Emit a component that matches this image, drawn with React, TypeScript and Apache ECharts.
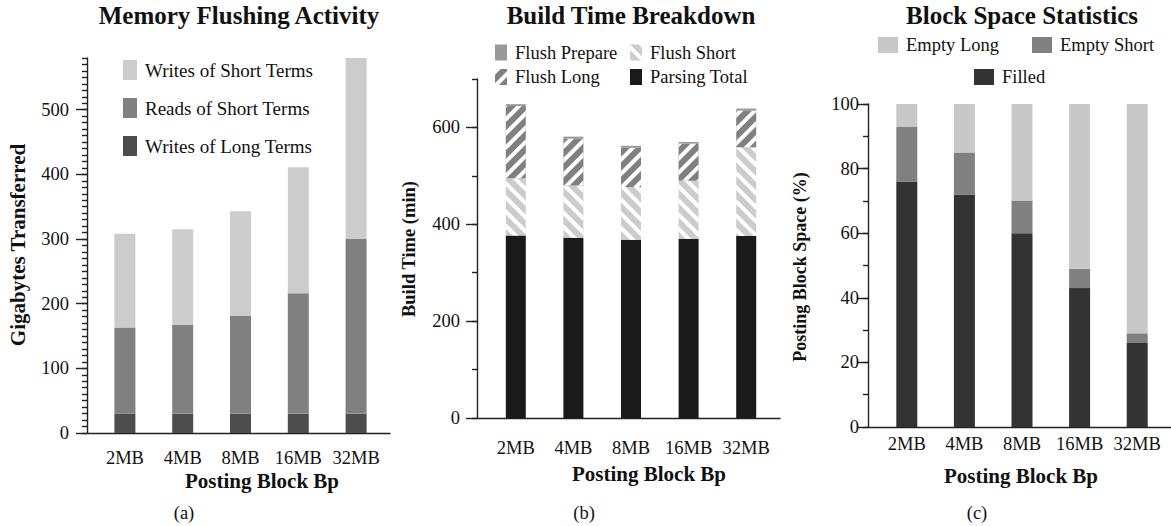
import React, { useEffect, useRef } from 'react';
import * as echarts from 'echarts';

const categories = ['2MB', '4MB', '8MB', '16MB', '32MB'];

// (a) Memory Flushing Activity (GB)
const memWritesLong = [30, 30, 30, 30, 30];
const memReadsShort = [133, 137, 151, 186, 270];
const memWritesShort = [145, 148, 162, 195, 280];
const memTicks = [0, 100, 200, 300, 400, 500];

// (b) Build Time Breakdown (min)
const buildParsing = [377, 372, 368, 370, 376];
const buildFlushShort = [118, 108, 109, 120, 183];
const buildFlushLong = [149, 97, 81, 77, 76];
const buildFlushPrepare = [4, 4, 4, 3, 4];
const buildTicks = [0, 200, 400, 600];

// (c) Block Space Statistics (%)
const blockFilled = [76, 72, 60, 43, 26];
const blockEmptyShort = [17, 13, 10, 6, 3];
const blockEmptyLong = [7, 15, 30, 51, 71];
const blockTicks = [0, 20, 40, 60, 80, 100];

const SERIF = "'Liberation Serif', 'Times New Roman', Times, serif";
const INK = '#111';
const AXIS = { color: '#222', width: 1.4 };

const panels = [
  { axisX: 87, top: 58, bottom: 433, barLeft: 96, barWidth: 289, max: 580, minorStep: 10, ticks: memTicks, labelMargin: 18, catMargin: 15 },
  { axisX: 477, top: 79, bottom: 418, barLeft: 487, barWidth: 288, max: 700, minorStep: 100, ticks: buildTicks, labelMargin: 17, catMargin: 20 },
  { axisX: 868, top: 104, bottom: 427, barLeft: 878, barWidth: 288, max: 100, minorStep: 10, ticks: blockTicks, labelMargin: 9, catMargin: 7 },
];

function txt(text: string, x: number, y: number, size: number, bold: boolean, rotate = 0) {
  return {
    type: 'text',
    x,
    y,
    rotation: rotate,
    silent: true,
    style: {
      text,
      fontFamily: SERIF,
      fontSize: size,
      fontWeight: bold ? 'bold' : 'normal',
      fill: INK,
      align: 'center',
      verticalAlign: 'middle',
      textAlign: 'center',
      textVerticalAlign: 'middle',
    },
  };
}

function stripe(rotation: number) {
  return {
    symbol: 'rect',
    symbolSize: 1,
    color: '#ffffff',
    dashArrayX: [1, 0],
    dashArrayY: [4, 6],
    rotation,
  };
}

function buildOption() {
  const grid: any[] = [];
  const xAxis: any[] = [];
  const yAxis: any[] = [];
  panels.forEach((p, k) => {
    grid.push({ left: p.axisX, top: p.top, width: 303, height: p.bottom - p.top });
    grid.push({ left: p.barLeft, top: p.top, width: p.barWidth, height: p.bottom - p.top });
    xAxis.push({
      type: 'value', gridIndex: 2 * k, min: 0, max: 1,
      axisLine: { show: true, onZero: false, lineStyle: AXIS },
      axisTick: { show: false }, axisLabel: { show: false }, splitLine: { show: false },
    });
    xAxis.push({
      type: 'category', gridIndex: 2 * k + 1, data: categories,
      axisLine: { show: false }, axisTick: { show: false },
      axisLabel: { interval: 0, hideOverlap: false, margin: p.catMargin, fontFamily: SERIF, fontSize: 18.5, color: INK },
    });
    yAxis.push({
      type: 'value', gridIndex: 2 * k, min: 0, max: p.max, interval: p.minorStep, position: 'left',
      axisLine: { show: true, lineStyle: AXIS },
      axisTick: { show: true, length: 5, lineStyle: AXIS },
      axisLabel: { show: false }, splitLine: { show: false },
    });
    yAxis.push({
      type: 'value', gridIndex: 2 * k, min: 0, max: p.max, interval: p.ticks[1] - p.ticks[0], position: 'left',
      axisLine: { show: false },
      axisTick: { show: true, length: 11, lineStyle: AXIS, customValues: p.ticks },
      axisLabel: { customValues: p.ticks, margin: p.labelMargin, fontFamily: SERIF, fontSize: 18.5, color: INK },
      splitLine: { show: false },
    });
    yAxis.push({ type: 'value', gridIndex: 2 * k + 1, min: 0, max: p.max, show: false });
  });

  const bar = (name: string, stack: string, k: number, data: number[], width: number, itemStyle: any) => ({
    type: 'bar', name, stack, xAxisIndex: 2 * k + 1, yAxisIndex: 3 * k + 2, data, barWidth: width,
    itemStyle, emphasis: { disabled: true },
  });

  const series = [
    bar('Writes of Long Terms', 'a', 0, memWritesLong, 21, { color: '#4d4d4d' }),
    bar('Reads of Short Terms', 'a', 0, memReadsShort, 21, { color: '#808080' }),
    bar('Writes of Short Terms', 'a', 0, memWritesShort, 21, { color: '#cccccc' }),
    bar('Parsing Total', 'b', 1, buildParsing, 20, { color: '#1a1a1a' }),
    bar('Flush Short', 'b', 1, buildFlushShort, 20, { color: '#cccccc', decal: stripe(Math.PI / 4) }),
    bar('Flush Long', 'b', 1, buildFlushLong, 20, { color: '#808080', decal: stripe(-Math.PI / 4) }),
    bar('Flush Prepare', 'b', 1, buildFlushPrepare, 20, { color: '#999999' }),
    bar('Filled', 'c', 2, blockFilled, 21, { color: '#333333' }),
    bar('Empty Short', 'c', 2, blockEmptyShort, 21, { color: '#808080' }),
    bar('Empty Long', 'c', 2, blockEmptyLong, 21, { color: '#c8c8c8' }),
  ];

  const lt = { fontFamily: SERIF, fontSize: 18.5, color: INK, padding: [0, 0, 0, 3] };
  const one = (name: string, left: number, top: number, w: number, h: number) => ({
    data: [name], left, top, itemWidth: w, itemHeight: h, icon: 'rect', selectedMode: false, padding: 0, textStyle: lt,
  });
  const legend = [
    {
      orient: 'vertical', left: 123, top: 60, itemWidth: 14, itemHeight: 20, itemGap: 18, icon: 'rect',
      selectedMode: false, padding: 0, textStyle: { ...lt, fontSize: 19 },
      data: ['Writes of Short Terms', 'Reads of Short Terms', 'Writes of Long Terms'],
    },
    one('Flush Prepare', 495, 43, 12, 16),
    one('Flush Short', 630, 43, 12, 16),
    one('Flush Long', 495, 67.5, 12, 16),
    one('Parsing Total', 630, 67.5, 12, 16),
    one('Empty Long', 878, 35.5, 20, 16),
    one('Empty Short', 1032, 35.5, 20, 16),
    one('Filled', 974, 67.5, 20, 16),
  ];

  const graphic = [
    txt('Memory Flushing Activity', 239, 15, 25, true),
    txt('Build Time Breakdown', 631, 15, 25, true),
    txt('Block Space Statistics', 1022, 15, 25, true),
    txt('Gigabytes Transferred', 18, 245, 21, true, Math.PI / 2),
    txt('Build Time (min)', 409, 249, 18.5, true, Math.PI / 2),
    txt('Posting Block Space (%)', 800, 267, 18, true, Math.PI / 2),
    txt('Posting Block Bp', 262, 481, 21, true),
    txt('Posting Block Bp', 649, 474, 21, true),
    txt('Posting Block Bp', 1021, 476, 21, true),
    txt('(a)', 184, 513, 18.5, false),
    txt('(b)', 584, 513, 18.5, false),
    txt('(c)', 977, 513, 18.5, false),
  ];

  return {
    animation: false,
    backgroundColor: '#ffffff',
    textStyle: { fontFamily: SERIF },
    grid, xAxis, yAxis, series, legend, graphic,
  };
}

export default function App() {
  const ref = useRef<HTMLDivElement>(null);
  useEffect(() => {
    if (!ref.current) return;
    const chart = echarts.init(ref.current, undefined, { renderer: 'svg' });
    chart.setOption(buildOption() as any);
    return () => chart.dispose();
  }, []);
  return <div ref={ref} style={{ position: 'fixed', left: 0, top: 0, width: 1171, height: 526, background: '#fff' }} />;
}
